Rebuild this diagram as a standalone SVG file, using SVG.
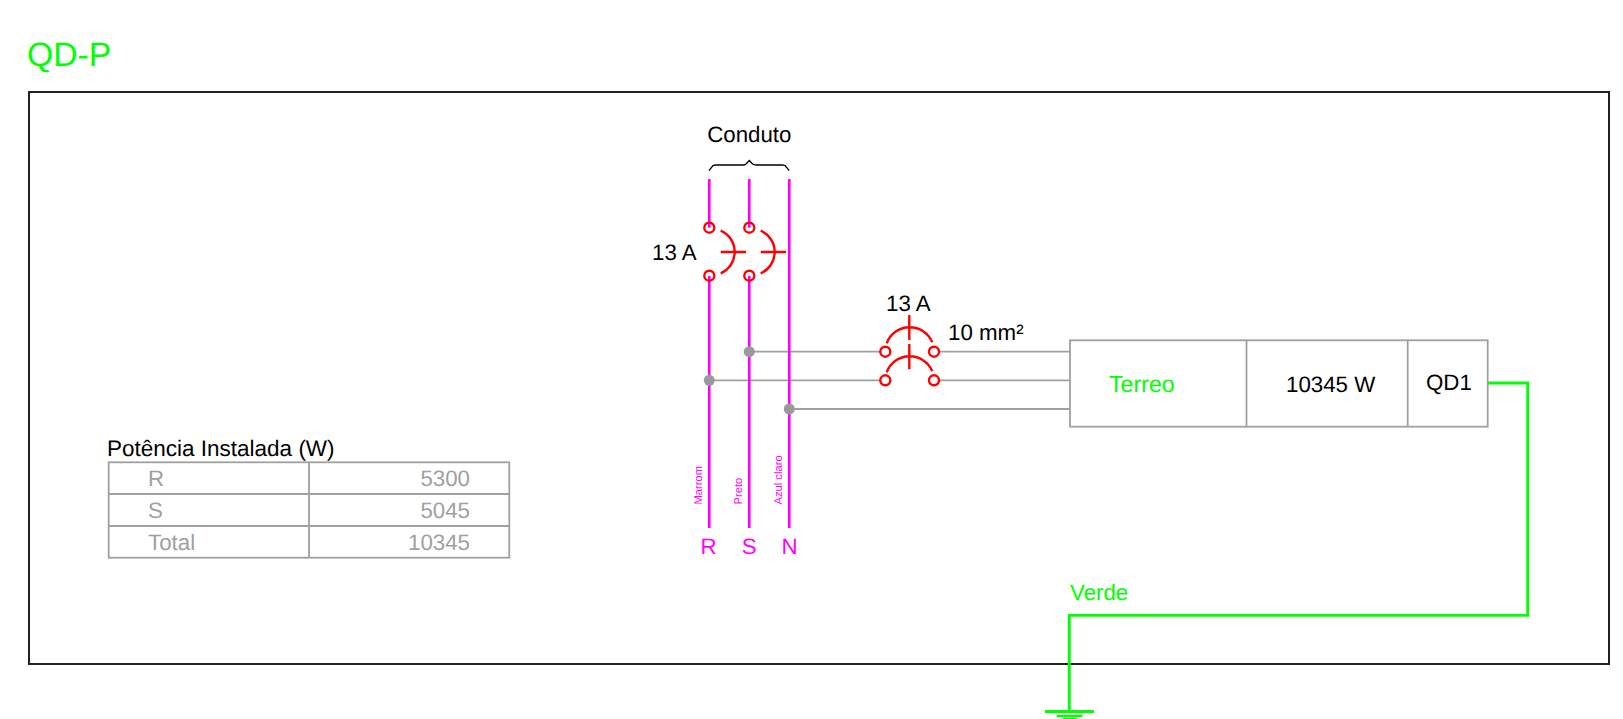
<svg xmlns="http://www.w3.org/2000/svg" width="1623" height="719" viewBox="0 0 1623 719">
<style>
text{font-family:"Liberation Sans",Arial,sans-serif;font-size:22.3px;fill:#000;text-rendering:geometricPrecision}
.g{fill:#00ff00}.m{fill:#ff00ff}.t{fill:#a0a0a0}.s{font-size:11.2px}.e{text-anchor:end}.c{text-anchor:middle}
.gray{fill:none;stroke:#a0a0a0;stroke-width:1.8}
.mag{fill:none;stroke:#ff00ff;stroke-width:2.6}
.red{fill:none;stroke:#ff0000;stroke-width:2.4}
.grn{fill:none;stroke:#00ff00;stroke-width:2.8}
.dot{fill:#999999}
</style>
<rect id="frame" x="29" y="92" width="1580" height="572" fill="none" stroke="#222" stroke-width="2"/>
<text id="title" class="g" x="27" y="66" style="font-size:33.700px">QD-P</text>
<g id="connectors">
<path class="gray" d="M749.300 351.700H880.300M939 351.700H1070M709.300 380.300H880.300M939 380.300H1070M789.300 409H1070"/>
<path class="mag" d="M709.300 179V227.700M709.300 275.700V528M749.300 179V227.700M749.300 275.700V528M789.300 179V528"/>
<path class="grn" d="M1488 383H1527.700V615.300H1069.300V711"/>
</g>
<g id="conduit">
<path d="M709 170.700L713 165.500Q714 165 716 165H743Q745 165 746 164L749.300 160.500L752.600 164Q754 165 756 165H782Q784 165 785 165.500L789.300 170.700" fill="none" stroke="#000" stroke-width="1.300"/>
<text class="c" x="749.300" y="142">Conduto</text>
</g>
<g id="breaker-2p">
<g class="red"><circle cx="709.300" cy="227.700" r="5"/><circle cx="709.300" cy="275.700" r="5"/><circle cx="749.300" cy="227.700" r="5"/><circle cx="749.300" cy="275.700" r="5"/>
<path d="M720.700 230.700A23.200 23.200 0 0 1 720.700 273.300M720.700 252H746M760.700 230.700A23.200 23.200 0 0 1 760.700 273.300M760.700 252H786"/></g>
<text x="652" y="260">13 A</text>
</g>
<g id="breaker-main">
<g class="red"><circle cx="885.300" cy="351.700" r="5"/><circle cx="934" cy="351.700" r="5"/><circle cx="885.300" cy="380.300" r="5"/><circle cx="934" cy="380.300" r="5"/>
<path d="M886.700 343.300A24.500 24.500 0 0 1 932.300 342.300M886.700 372.300A24.500 24.500 0 0 1 932.300 371.300M909.300 315V340M909.300 344V369.300"/></g>
<text x="886" y="311">13 A</text>
<text x="948" y="340">10 mm²</text>
</g>
<g id="junctions"><circle class="dot" cx="749.300" cy="351.700" r="5.500"/><circle class="dot" cx="709.300" cy="380.300" r="5.500"/><circle class="dot" cx="789.300" cy="409" r="5.500"/></g>
<g id="circuit-box">
<rect class="gray" x="1070" y="340.300" width="417.700" height="86.400"/>
<path class="gray" d="M1246.500 340.300V426.700M1407.700 340.300V426.700"/>
<text class="g" x="1109" y="392" style="font-size:23.200px">Terreo</text>
<text x="1286" y="392">10345 W</text>
<text x="1426" y="390">QD1</text>
</g>
<g id="phases">
<text class="m s" transform="translate(701.800 504.500) rotate(-90)">Marrom</text>
<text class="m s" transform="translate(741.500 504.500) rotate(-90)">Preto</text>
<text class="m s" transform="translate(781.500 504.500) rotate(-90)">Azul claro</text>
<text class="m c" x="708.500" y="554">R</text>
<text class="m c" x="749.300" y="554">S</text>
<text class="m c" x="789.500" y="554">N</text>
</g>
<g id="ground">
<text class="g" x="1070" y="600">Verde</text>
<path class="grn" d="M1045 711.500H1094"/>
<path d="M1056.700 716H1082.300" fill="none" stroke="#00ff00" stroke-width="2.500"/>
<path d="M1063 719H1077" fill="none" stroke="#00ff00" stroke-width="2"/>
</g>
<g id="power-table">
<text x="107" y="456" style="font-size:22.500px">Potência Instalada (W)</text>
<rect class="gray" x="108.700" y="462.300" width="400.600" height="95.400"/>
<path class="gray" d="M309 462.300V557.700M108.700 494H509.300M108.700 526H509.300"/>
<text class="t" x="148" y="486">R</text><text class="t e" x="470" y="486">5300</text>
<text class="t" x="148" y="518">S</text><text class="t e" x="470" y="518">5045</text>
<text class="t" x="148" y="550">Total</text><text class="t e" x="470" y="550">10345</text>
</g>
</svg>
